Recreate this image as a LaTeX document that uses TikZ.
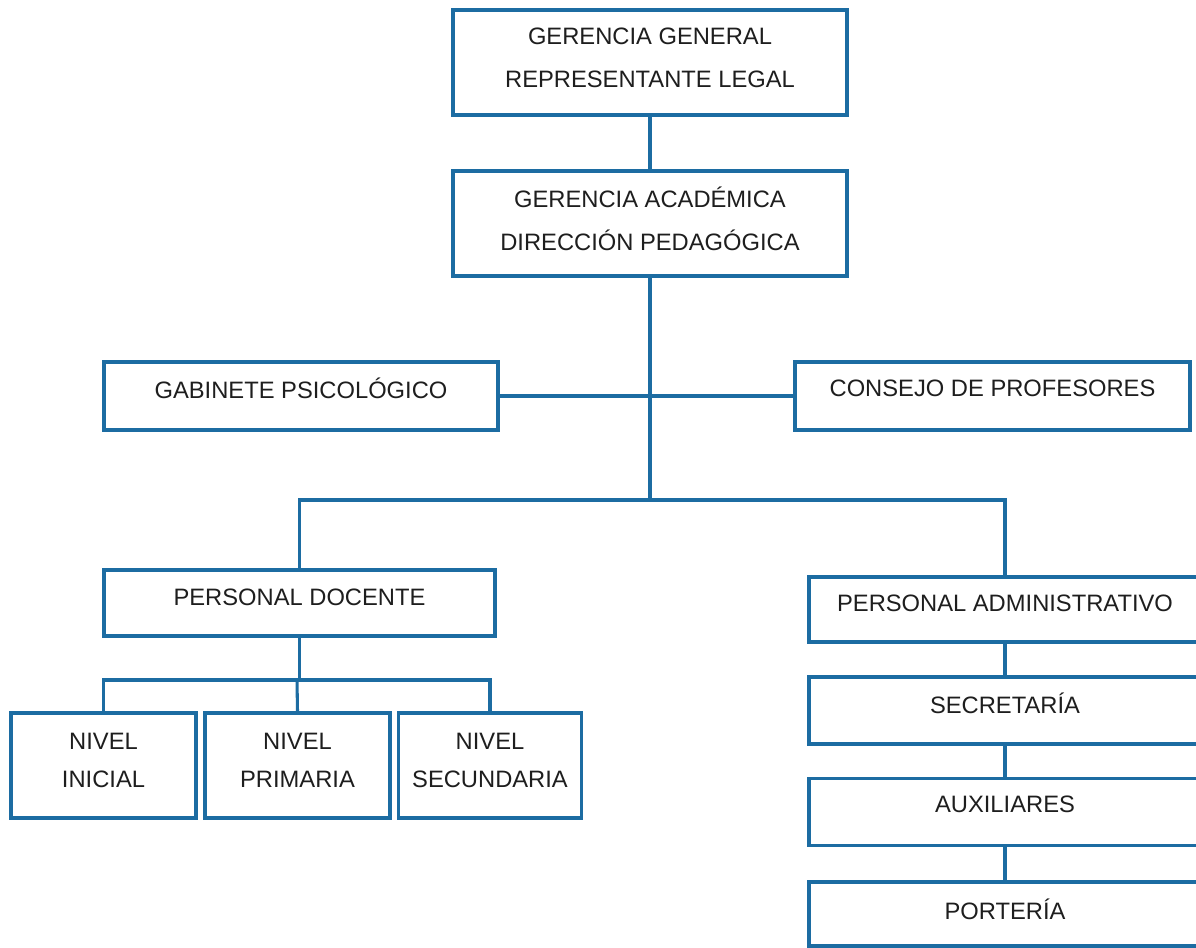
\documentclass[tikz,border=0pt]{standalone}
\usepackage{fontspec}
\setmainfont{Liberation Sans}
\definecolor{bl}{RGB}{28,108,162}
\definecolor{tx}{RGB}{30,30,30}
\begin{document}
\begin{tikzpicture}[x=0.75pt,y=-0.75pt,
  box/.style 2 args={draw=bl, line width=2.6pt, fill=white, inner sep=0pt,
    minimum width=0.75pt*#1, minimum height=0.75pt*#2},
  txt/.style={align=center, text=tx, inner sep=0pt,
    font=\fontsize{17.8}{32.2}\selectfont},
  txts/.style={align=center, text=tx, inner sep=0pt,
    font=\fontsize{17.8}{28.5}\selectfont},
  conn/.style={draw=bl, line width=2.3pt}]
\clip (0,0) rectangle (1196,948);
\fill[white] (0,0) rectangle (1196,948);
% boxes
\node[box={394}{105}] (gg) at (650,62.5) {};
\node[box={394}{105}] (ga) at (650,223.5) {};
\node[box={394}{68}] (gab) at (301,396) {};
\node[box={395}{68}] (con) at (992.5,396) {};
\node[box={391}{66}] (pd) at (299.5,603) {};
\node[box={185}{105}] (ini) at (103.5,765.5) {};
\node[box={185}{105}] (pri) at (297.5,765.5) {};
\node[box={183}{105}] (sec) at (490,765.5) {};
\node[box={392}{65}] (pa) at (1005,609.5) {};
\node[box={392}{67}] (secr) at (1005,710.5) {};
\node[box={392}{67}] (aux) at (1005,812) {};
\node[box={392}{64}] (por) at (1005,914) {};
% connectors
\coordinate (j1) at (650,500);
\coordinate (j2) at (297,680);
\draw[conn] (gg.south) -- (ga.north);
\draw[conn] (ga.south) -- (j1);
\draw[conn] (gab.east) -- (con.west);
\draw[conn] (pd.north) |- (j1) -| (pa.north);
\draw[conn] (pd.south) -- (pd.south |- j2);
\draw[conn] (ini.north) |- (j2) -| (sec.north);
\draw[conn] (j2) -- (pri.north);
\draw[conn] (pa.south) -- (secr.north);
\draw[conn] (secr.south) -- (aux.north);
\draw[conn] (aux.south) -- (por.north);
% texts
\node[txt] (t-gg) at ([yshift=3.75pt]gg.center) {GERENCIA GENERAL\\REPRESENTANTE LEGAL};
\node[txt] (t-ga) at ([yshift=3.75pt]ga.center) {GERENCIA ACADÉMICA\\DIRECCIÓN PEDAGÓGICA};
\node[txt] (t-gab) at ([yshift=6pt]gab.center) {GABINETE PSICOLÓGICO};
\node[txt] (t-con) at ([yshift=6pt]con.center) {CONSEJO DE PROFESORES};
\node[txt] (t-pd) at ([yshift=4.5pt]pd.center) {PERSONAL DOCENTE};
\node[txts] (t-ini) at ([yshift=4pt]ini.center) {NIVEL\\INICIAL};
\node[txts] (t-pri) at ([yshift=4pt]pri.center) {NIVEL\\PRIMARIA};
\node[txts] (t-sec) at ([yshift=4pt]sec.center) {NIVEL\\SECUNDARIA};
\node[txt] (t-pa) at ([yshift=4.9pt]pa.center) {PERSONAL ADMINISTRATIVO};
\node[txt] (t-secr) at ([yshift=5.6pt]secr.center) {SECRETARÍA};
\node[txt] (t-aux) at ([yshift=6pt]aux.center) {AUXILIARES};
\node[txt] (t-por) at ([yshift=3.75pt]por.center) {PORTERÍA};
\end{tikzpicture}
\end{document}
